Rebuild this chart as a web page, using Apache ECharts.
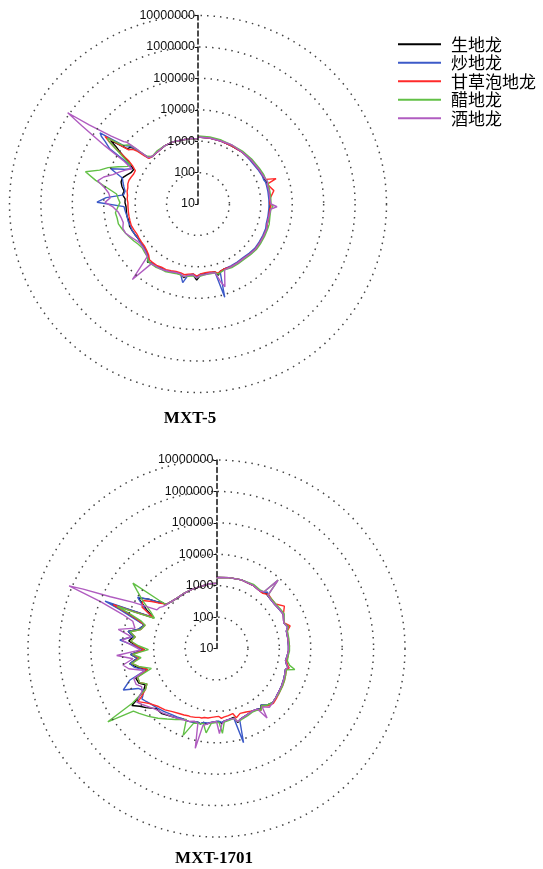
<!DOCTYPE html>
<html>
<head>
<meta charset="utf-8">
<script src="https://cdn.jsdelivr.net/npm/echarts@6/dist/echarts.min.js"></script>
<style>
html,body{margin:0;padding:0;background:#fff;}
#chart{width:543px;height:869px;}
</style>
</head>
<body>
<div id="chart"></div>
<script>
var names = ['生地龙', '炒地龙', '甘草泡地龙', '醋地龙', '酒地龙'];
var colors = ['#000000', '#3c5ac8', '#ff2a2a', '#62c046', '#b05cc0'];
var titles = ['MXT-5', 'MXT-1701'];

// angle (deg, clockwise from top) of every sampled point
var anglesMxt5 = [0,10,20,30,40,50,60,66,70,72,
    74,80,86,90,92,94,100,106,110,116,
    122,128,134,140,146,152,158,162,164,166,
    170,174,178,181,184,188,191,194,198,202,
    206,210,214,218,221,224,228,232,236,240,
    244,248,252,256,260,264,268,271,274,277,
    280,283,286,289,292,295,298,300,302,304,
    305,306,308,310,311,312,313,316,322,330,
    338,346,354,360];

var mxt5Sheng = [1360,1360,1360,1360,1470,1580,1700,1820,1820,1960,
    1960,1960,1960,1960,1960,1960,1960,1960,2110,2110,
    2110,2110,1960,1820,1820,1820,1700,1820,2270,1700,
    1700,1700,1820,2630,1820,1960,2450,1960,1960,2110,
    2270,2270,2450,2450,2830,1960,1700,1580,1580,1580,
    1700,1820,1960,1820,1960,1960,1960,2110,2110,2630,
    2450,3050,3530,3530,2830,2270,2110,3050,5090,10600,
    15300,27500,7340,6340,5090,2450,1470,1260,1260,1360,
    1360,1260,1260,1180];
var mxt5Chao = [1360,1360,1360,1360,1470,1470,1580,1700,1700,1820,
    1820,1820,1820,1820,1820,1820,1820,1820,1960,1960,
    1960,1960,1820,1700,1700,1700,1700,1960,12250,1700,
    1700,1700,1700,2110,1700,1960,3530,1960,1960,2110,
    2270,2270,2450,2450,2630,1960,1700,1580,1580,1580,
    1700,1820,1820,1960,1960,2110,2270,16450,8500,2450,
    2270,2630,3050,3530,9840,4090,2450,3530,20500,36900,
    57200,71400,10600,7340,5480,2630,1470,1260,1260,1360,
    1360,1260,1260,1180];
var mxt5Gancao = [1360,1360,1360,1360,1470,1580,1700,1820,1960,4090,
    1960,2830,1960,1960,2110,1960,1960,1960,2110,2110,
    2110,2110,1960,1820,1820,1820,1700,1820,1960,1700,
    1580,1580,1700,1960,1700,1820,1960,1820,1820,1960,
    2110,2110,2270,2270,2270,1820,1580,1470,1470,1470,
    1470,1580,1700,1700,1700,1700,1700,1700,1820,1820,
    1960,1960,2110,2110,1960,1820,1820,2450,4090,15300,
    27500,45900,6340,5090,3530,1960,1360,1260,1260,1360,
    1360,1260,1260,1180];
var mxt5Cu = [1470,1470,1470,1470,1580,1700,1820,1960,1960,2110,
    2110,2110,2110,2110,2450,2110,2110,2270,2270,2270,
    2270,2270,2110,1960,1960,1960,1820,1960,2110,1820,
    1820,1820,1960,2270,1960,2110,2270,2110,2110,2270,
    2450,2450,2630,2630,2630,2110,1960,1820,1960,2270,
    2630,3050,3530,4090,4090,4400,3530,3050,3530,4090,
    8500,22000,53200,20500,12250,6340,3530,3050,6340,15300,
    27500,36900,10600,8500,7340,3050,1700,1260,1360,1360,
    1360,1260,1260,1180];
var mxt5Jiu = [1360,1360,1360,1470,1470,1580,1700,1820,1960,2110,
    1960,1960,1960,2110,3280,2110,1960,1960,2110,2110,
    2110,2110,1960,1820,1820,1820,1820,5900,3530,1820,
    1700,1820,1820,2270,1820,1960,2270,1960,1960,2110,
    2270,2450,2450,2630,15300,2110,1820,1700,1700,1960,
    2450,3050,3280,2830,3050,3530,5090,9140,6340,7340,
    10600,19050,13200,7340,5090,3530,2450,5090,31900,288000,
    1160000,200000,31900,12250,9840,3530,1470,1260,1260,1360,
    1360,1260,1260,1180];

var anglesMxt1701 = [0,10,20,30,37,40,42,44,48,53,
    58,63,69,73,76,82,88,92,96,100,
    103,105,107,111,115,120,126,130,134,138,
    142,144,146,150,155,160,162,164,166,170,
    174,176,178,180,184,187,190,192,194,197,
    201,203,206,210,215,220,225,230,233,236,
    237,240,243,246,250,253,257,260,263,266,
    269,272,275,278,281,284,288,290,292,293,
    294,296,299,303,306,308,310,311,316,322,
    330,338,346,354,360];

var mxt1701Sheng = [1820,1960,2110,2110,1960,2110,2270,2270,2110,2110,
    2270,2450,1960,2450,1960,1960,1960,1960,1820,1700,
    1960,2270,1960,2110,2270,2450,2630,2830,3050,2630,
    1960,2450,2110,1960,2110,2270,2450,2830,1820,1960,
    2110,2450,2110,2110,2270,2630,2450,2830,2630,2830,
    3050,3050,3050,3530,4090,5090,5090,8500,11400,17700,
    11400,4730,3530,5090,5480,1960,4090,6340,3530,5480,
    1960,3530,6340,4730,7340,3530,2630,5090,15300,45900,
    10600,1700,3530,9140,4730,2630,1960,1360,1180,1090,
    1090,1090,1090,1180,1180];
var mxt1701Chao = [1820,1960,2110,2110,1960,2110,2630,2270,2110,2110,
    2270,2450,1960,2270,1960,1960,1960,1960,1820,1700,
    1960,2450,1960,2110,2270,2450,2630,2830,3050,2630,
    1960,2630,2110,1960,2110,2270,2450,13200,1960,1960,
    2110,2270,2110,2110,2270,2450,2450,2830,2630,2830,
    3050,3050,3050,3280,3530,4090,4730,5480,6340,7340,
    6340,4730,6340,17700,8500,2270,4730,6340,3530,5480,
    2270,4090,12250,4730,7340,3530,2630,6340,22000,71400,
    13200,1960,4090,9840,4730,2630,1960,1360,1180,1090,
    1090,1090,1090,1180,1180];
var mxt1701Gancao = [1820,1960,2110,2110,1960,1960,1960,2450,2270,2270,
    3530,2450,1960,2830,2110,1960,2110,1960,1960,1820,
    2110,2450,2110,2270,2450,2630,2830,3050,3280,2830,
    2110,2630,2270,1960,1700,1580,1700,1960,1360,1470,
    1580,1700,1470,1470,1580,1700,1700,1820,1820,1960,
    2110,2110,2270,2450,2830,3530,4090,5480,7340,10600,
    7340,4090,3050,4730,4730,1960,3530,5480,3050,4730,
    1960,3530,5480,4090,6340,3050,2450,4730,13200,36900,
    7340,1700,5090,6340,3530,2270,1700,1360,1180,1090,
    1090,1090,1090,1180,1180];
var mxt1701Cu = [1820,1960,2110,2270,2110,2270,8500,2270,2270,2270,
    2450,2630,1960,2450,2110,2110,2110,2110,1960,1960,
    2450,3800,2110,2270,2450,2630,2830,2830,3050,2630,
    2110,2630,2270,2110,2270,2450,2630,2630,1960,2110,
    2270,5090,2270,2270,2450,5090,2630,2830,2830,3050,
    9140,2830,3280,4090,5480,7900,11400,16450,20500,148600,
    15300,4090,3050,4730,4730,1470,3530,5480,2630,4730,
    1470,3050,5480,4090,6340,3050,2450,3530,10600,27500,
    6340,1580,2450,6340,13200,23800,2450,1360,1180,1090,
    1090,1090,1090,1180,1180];
var mxt1701Jiu = [1820,1960,2110,2110,1960,2270,8500,2270,2110,2110,
    2270,2450,1960,2270,1960,1960,1960,1960,1820,1700,
    1960,2270,1960,2110,2270,2450,2630,2830,3050,3280,
    2270,5480,2110,1960,2110,2270,2450,2630,1960,1960,
    2110,2630,5090,2110,2270,2630,3050,17700,2830,2630,
    3050,3050,3280,3530,4090,4730,5480,7340,9140,11400,
    9840,5480,4730,6340,6340,2450,7340,10600,4730,15300,
    2630,4730,10600,5480,15300,4730,6340,15300,95700,1250000,
    440000,57200,10600,1820,1700,1470,1360,1360,1180,1090,
    1090,1090,1090,1180,1180];

var radiusTicks = [10, 100, 1000, 10000, 100000, 1000000, 10000000];

var chart;

function init() {
    chart = echarts.init(document.getElementById('chart'));
    chart.setOption(buildOption());
}

function pairs(vals, angles) {
    return vals.map(function (v, i) { return [v, angles[i]]; });
}

function makeSeries(polarIndex, list, angles) {
    return list.map(function (vals, k) {
        return {
            type: 'line',
            name: names[k],
            coordinateSystem: 'polar',
            polarIndex: polarIndex,
            data: pairs(vals, angles),
            showSymbol: false,
            symbol: 'none',
            animation: false,
            lineStyle: {width: 1.4, color: colors[k]},
            itemStyle: {color: colors[k]},
            z: 3
        };
    });
}

function radiusAxis(i) {
    return {
        polarIndex: i,
        type: 'log',
        logBase: 10,
        min: radiusTicks[0],
        max: radiusTicks[radiusTicks.length - 1],
        axisLine: {show: true, lineStyle: {color: '#111', width: 1.5, type: [5, 3]}},
        axisTick: {show: true, length: 3, lineStyle: {color: '#111', width: 1}},
        axisLabel: {
            show: true, color: '#111', fontSize: 12.5, fontFamily: 'Liberation Sans', margin: 3,
            formatter: function (v) { return String(Math.round(v)); }
        },
        splitLine: {show: true, lineStyle: {color: '#444', width: 1.5, type: [1.5, 5]}},
        z: 10
    };
}

function angleAxis(i) {
    return {
        polarIndex: i,
        type: 'value',
        min: 0,
        max: 360,
        startAngle: 90,
        clockwise: true,
        axisLine: {show: false},
        axisTick: {show: false},
        axisLabel: {show: false},
        splitLine: {show: false}
    };
}

function buildOption() {
    var series = makeSeries(0, [mxt5Sheng, mxt5Chao, mxt5Gancao, mxt5Cu, mxt5Jiu], anglesMxt5)
        .concat(makeSeries(1, [mxt1701Sheng, mxt1701Chao, mxt1701Gancao, mxt1701Cu, mxt1701Jiu], anglesMxt1701));
    return {
        animation: false,
        backgroundColor: '#fff',
        polar: [
            {center: [198, 204], radius: 188.5},
            {center: [216.5, 648.5], radius: 188.5}
        ],
        angleAxis: [angleAxis(0), angleAxis(1)],
        radiusAxis: [radiusAxis(0), radiusAxis(1)],
        legend: {
            orient: 'vertical',
            left: 393,
            top: 30,
            itemWidth: 43,
            itemHeight: 2,
            itemGap: 0,
            icon: 'rect',
            textStyle: {
                fontFamily: 'Noto Sans CJK SC', fontSize: 17, color: '#000',
                lineHeight: 18.5, padding: [0, 0, 0, 5]
            },
            data: names
        },
        graphic: [
            {type: 'text', x: 190, y: 419, style: {text: titles[0], fontFamily: 'Liberation Serif', fontWeight: 'bold', fontSize: 17, fill: '#000', align: 'center', verticalAlign: 'middle'}},
            {type: 'text', x: 214, y: 859, style: {text: titles[1], fontFamily: 'Liberation Serif', fontWeight: 'bold', fontSize: 17, fill: '#000', align: 'center', verticalAlign: 'middle'}}
        ],
        series: series
    };
}

init();
</script>
</body>
</html>
